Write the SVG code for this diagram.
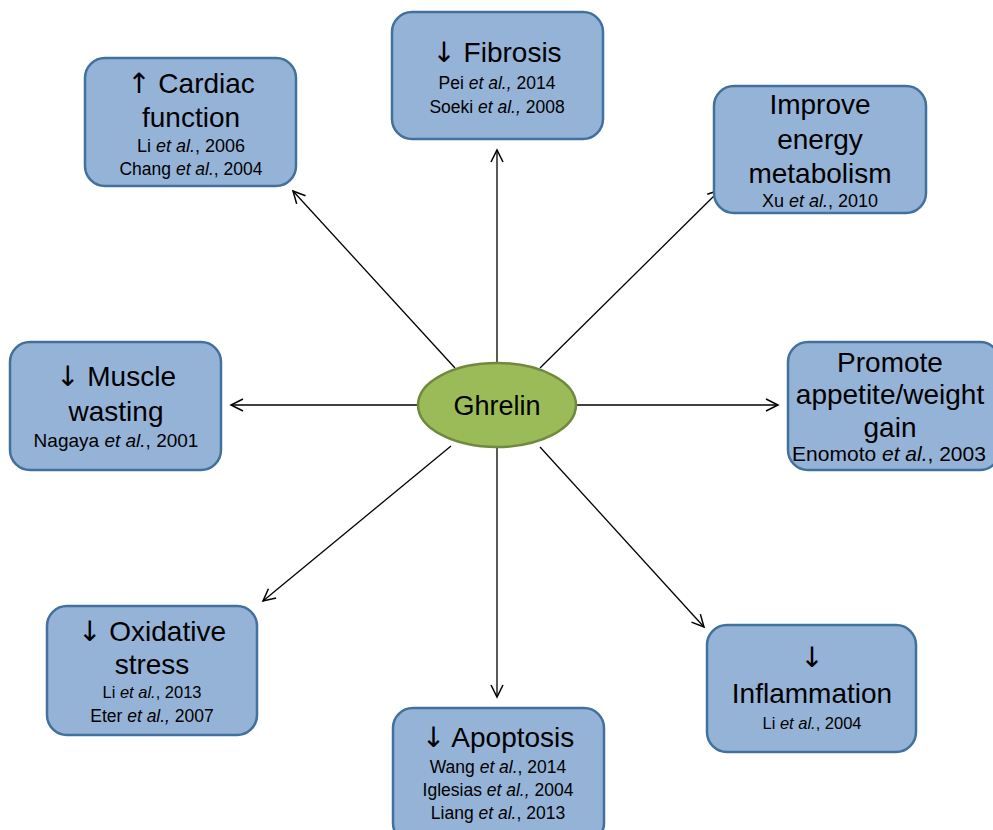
<svg xmlns="http://www.w3.org/2000/svg" width="993" height="830" viewBox="0 0 993 830">
<style>
.box{fill:#95B3D7;stroke:#41719C;stroke-width:2.5}
.t{font-family:"Liberation Sans",Arial,sans-serif;font-size:28px;fill:#000;text-anchor:middle}
.r{font-family:"Liberation Sans",Arial,sans-serif;font-size:17.5px;fill:#000;text-anchor:middle}
.a{font-family:"DejaVu Sans",sans-serif;fill:#000}
.c{stroke:#000;stroke-width:1.3;fill:none;marker-end:url(#ah)}
</style>
<defs>
<marker id="ah" markerUnits="userSpaceOnUse" markerWidth="16" markerHeight="16" refX="13" refY="7" orient="auto">
<path d="M1,1 L13,7 L1,13" fill="none" stroke="#000" stroke-width="1.5"/>
</marker>
</defs>
<rect width="993" height="830" fill="#fff"/>
<g id="connectors">
<line class="c" x1="497" y1="363" x2="497" y2="150"/>
<line class="c" x1="455" y1="368" x2="293" y2="191"/>
<line class="c" x1="540" y1="368" x2="720" y2="190"/>
<line class="c" x1="418" y1="405" x2="231" y2="405"/>
<line class="c" x1="577" y1="405" x2="778" y2="405"/>
<line class="c" x1="451" y1="446" x2="263" y2="601"/>
<line class="c" x1="497" y1="447" x2="497" y2="697"/>
<line class="c" x1="540" y1="447" x2="704" y2="627"/>
</g>
<g id="ghrelin">
<ellipse cx="497" cy="405" rx="79" ry="42" fill="#9BBB59" stroke="#71893F" stroke-width="2.5"/>
<text class="t" x="497" y="415" style="font-size:27px">Ghrelin</text>
</g>
<g id="cardiac">
<rect class="box" x="85" y="58" width="211" height="128" rx="20"/>
<text class="t" x="191" y="93"><tspan class="a">↑</tspan> Cardiac</text>
<text class="t" x="191" y="127">function</text>
<text class="r" x="191" y="152" style="font-size:18px">Li <tspan font-style="italic">et al.</tspan>, 2006</text>
<text class="r" x="191" y="175">Chang <tspan font-style="italic">et al.</tspan>, 2004</text>
</g>
<g id="fibrosis">
<rect class="box" x="392" y="12" width="211" height="127" rx="20"/>
<text class="t" x="497" y="62"><tspan class="a">↓</tspan> Fibrosis</text>
<text class="r" x="497" y="89">Pei <tspan font-style="italic">et al.,</tspan> 2014</text>
<text class="r" x="497" y="113">Soeki <tspan font-style="italic">et al.,</tspan> 2008</text>
</g>
<g id="energy">
<rect class="box" x="714" y="86" width="212" height="127" rx="20"/>
<text class="t" x="820" y="114">Improve</text>
<text class="t" x="820" y="149">energy</text>
<text class="t" x="820" y="183">metabolism</text>
<text class="r" x="820" y="207" style="font-size:18px">Xu <tspan font-style="italic">et al.</tspan>, 2010</text>
</g>
<g id="muscle">
<rect class="box" x="10" y="342" width="211" height="128" rx="20"/>
<text class="t" x="116" y="386"><tspan class="a">↓</tspan> Muscle</text>
<text class="t" x="116" y="421">wasting</text>
<text class="r" x="116" y="447" style="font-size:19px">Nagaya <tspan font-style="italic">et al.</tspan>, 2001</text>
</g>
<g id="appetite">
<rect class="box" x="788" y="342" width="212" height="128" rx="20"/>
<text class="t" x="890" y="372">Promote</text>
<text class="t" x="890" y="404">appetite/weight</text>
<text class="t" x="890" y="437">gain</text>
<text class="r" x="889" y="461" style="font-size:21px">Enomoto <tspan font-style="italic">et al.</tspan>, 2003</text>
</g>
<g id="oxidative">
<rect class="box" x="47" y="606" width="210" height="129" rx="20"/>
<text class="t" x="152" y="641"><tspan class="a">↓</tspan> Oxidative</text>
<text class="t" x="152" y="674">stress</text>
<text class="r" x="152" y="698" style="font-size:16.5px">Li <tspan font-style="italic">et al.</tspan>, 2013</text>
<text class="r" x="152" y="722">Eter <tspan font-style="italic">et al.,</tspan> 2007</text>
</g>
<g id="apoptosis">
<rect class="box" x="393" y="708" width="211" height="135" rx="20"/>
<text class="t" x="498" y="747"><tspan class="a">↓</tspan> Apoptosis</text>
<text class="r" x="498" y="773">Wang <tspan font-style="italic">et al.</tspan>, 2014</text>
<text class="r" x="498" y="796">Iglesias <tspan font-style="italic">et al.,</tspan> 2004</text>
<text class="r" x="498" y="819">Liang <tspan font-style="italic">et al.</tspan>, 2013</text>
</g>
<g id="inflammation">
<rect class="box" x="707" y="625" width="209" height="127" rx="20"/>
<text class="t" x="812" y="667"><tspan class="a">↓</tspan></text>
<text class="t" x="812" y="703">Inflammation</text>
<text class="r" x="812" y="729" style="font-size:16.5px">Li <tspan font-style="italic">et al.</tspan>, 2004</text>
</g>
</svg>
